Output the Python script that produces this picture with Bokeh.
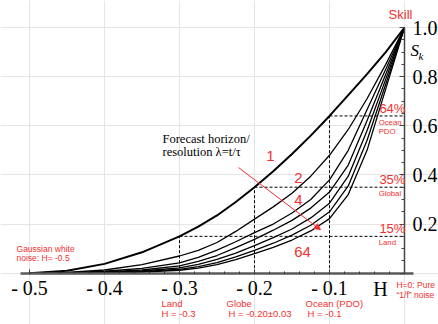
import numpy as np
from bokeh.plotting import figure
from bokeh.models import (Range1d, LinearAxis, SingleIntervalTicker, CustomJSTickFormatter,
                          Label, Arrow, NormalHead)
from bokeh.embed import file_html
from bokeh.resources import INLINE

# ---- data ----
H = [-0.5, -0.45, -0.4, -0.35, -0.3, -0.275, -0.25, -0.225, -0.2, -0.175,
     -0.15, -0.125, -0.1, -0.075, -0.05, -0.025, 0.0]
lambdas = [1, 2, 4, 8, 16, 32, 64]
skill_l1 = [0.0, 0.010, 0.038, 0.085, 0.150, 0.190, 0.235, 0.290, 0.350, 0.415,
            0.485, 0.560, 0.640, 0.725, 0.810, 0.900, 1.0]
skill_l2 = [0.0, 0.003, 0.013, 0.035, 0.070, 0.093, 0.125, 0.170, 0.220, 0.270,
            0.325, 0.395, 0.480, 0.585, 0.710, 0.850, 1.0]
skill_l4 = [0.0, 0.002, 0.008, 0.020, 0.042, 0.064, 0.094, 0.128, 0.165, 0.200,
            0.245, 0.300, 0.380, 0.500, 0.665, 0.830, 1.0]
skill_l8 = [0.0, 0.001, 0.005, 0.013, 0.030, 0.048, 0.072, 0.104, 0.138, 0.175,
            0.215, 0.265, 0.330, 0.440, 0.620, 0.810, 1.0]
skill_l16 = [0.0, 0.001, 0.003, 0.009, 0.022, 0.036, 0.056, 0.082, 0.112, 0.145,
             0.180, 0.225, 0.285, 0.395, 0.580, 0.790, 1.0]
skill_l32 = [0.0, 0.0005, 0.002, 0.006, 0.016, 0.027, 0.043, 0.066, 0.093, 0.122,
             0.155, 0.195, 0.250, 0.355, 0.540, 0.770, 1.0]
skill_l64 = [0.0, 0.0003, 0.0015, 0.004, 0.012, 0.021, 0.035, 0.055, 0.080, 0.105,
             0.135, 0.172, 0.222, 0.320, 0.500, 0.750, 1.0]
curves = [skill_l1, skill_l2, skill_l4, skill_l8, skill_l16, skill_l32, skill_l64]

ref_H = [-0.3, -0.2, -0.1]
ref_skill = [0.15, 0.35, 0.64]
ref_pct = ["15%", "35%", "64%"]
ref_region = [["Land"], ["Global"], ["Ocean", "PDO"]]

RED = "#f2302e"
SERIF = "Liberation Serif"
SANS = "Liberation Sans"

# frame covers the whole canvas; axes are pinned at H=0 / Sk=0
p = figure(width=438, height=324,
           x_range=Range1d(-0.53867, 0.04533), y_range=Range1d(-0.20879, 1.10989),
           output_backend="svg", toolbar_location=None,
           x_axis_location=None, y_axis_location=None,
           min_border_left=0, min_border_right=0, min_border_top=0, min_border_bottom=0)
p.outline_line_color = None
p.background_fill_color = "white"
p.border_fill_color = "white"

# axes
xaxis = LinearAxis(ticker=SingleIntervalTicker(interval=0.1, num_minor_ticks=5),
                   formatter=CustomJSTickFormatter(code="""
                       if (Math.abs(tick) < 1e-9) { return ""; }
                       return "- " + Math.abs(tick).toFixed(1);"""),
                   fixed_location=0.0, bounds=(-0.512, 0.012))
xaxis.axis_line_color = "#5a5a5a"
xaxis.axis_line_width = 2.5
xaxis.major_tick_in = 4
xaxis.major_tick_out = 0
xaxis.minor_tick_in = 2
xaxis.minor_tick_out = 0
xaxis.major_tick_line_color = "#333333"
xaxis.minor_tick_line_color = "#333333"
xaxis.major_label_text_font = SERIF
xaxis.major_label_text_font_size = "20px"
xaxis.major_label_text_color = "black"
xaxis.major_label_standoff = 4
p.add_layout(xaxis, "below")

yaxis = LinearAxis(ticker=SingleIntervalTicker(interval=0.2, num_minor_ticks=4),
                   formatter=CustomJSTickFormatter(code="""
                       if (Math.abs(tick) < 1e-9) { return ""; }
                       return tick.toFixed(1);"""),
                   fixed_location=0.0, bounds=(0.0, 1.0))
yaxis.axis_line_color = "#444444"
yaxis.axis_line_width = 1.5
yaxis.major_tick_in = 5
yaxis.major_tick_out = 0
yaxis.minor_tick_in = 3
yaxis.minor_tick_out = 0
yaxis.major_tick_line_color = "#444444"
yaxis.minor_tick_line_color = "#444444"
yaxis.major_label_text_font = SERIF
yaxis.major_label_text_font_size = "20px"
yaxis.major_label_text_color = "black"
yaxis.major_label_standoff = 8
p.add_layout(yaxis, "right")

# dashed reference lines
zeros = [0.0] * len(ref_H)
p.segment(x0=ref_H, y0=ref_skill, x1=zeros, y1=ref_skill, line_color="black",
          line_width=1, line_dash="3 2")
p.segment(x0=ref_H, y0=zeros, x1=ref_H, y1=ref_skill, line_color="black",
          line_width=1, line_dash="3 2")

# curves
for lam, s in zip(lambdas, curves):
    p.line(H, s, line_color="black", line_width=2.0 if lam == 1 else 1.3,
           line_join="round")

def lab(x, y, text, size, color=RED, font=SANS, align="left", baseline="middle", style="normal"):
    p.add_layout(Label(x=x, y=y, text=text, text_font=font, text_font_size=size,
                       text_color=color, text_align=align, text_baseline=baseline,
                       text_font_style=style))

# percentages and regions at right
for hv, sv, pct, reg in zip(ref_H, ref_skill, ref_pct, ref_region):
    lab(0.0012, sv + 0.03, pct, "13px", align="right")
    for i, r in enumerate(reg):
        lab(-0.0345, sv - 0.027 - 0.038 * i, r, "7.8px")

# curve labels
lab(-0.1787, 0.479, "1", "15px", align="center")
lab(-0.1413, 0.3895, "2", "15px", align="center")
lab(-0.1413, 0.2995, "4", "15px", align="center")
lab(-0.136, 0.088, "64", "15px", align="center")

# forecast horizon text
lab(-0.3227, 0.546, "Forecast horizon/", "12.5px", color="black", font=SERIF)
lab(-0.3227, 0.495, "resolution  \u03bb=t/\u03c4", "12.5px", color="black", font=SERIF)

p.add_layout(Arrow(end=NormalHead(size=6, fill_color=RED, line_color=RED, line_width=1),
                   x_start=-0.2213, y_start=0.430, x_end=-0.112, y_end=0.177,
                   line_color=RED, line_width=1))

# left annotation
lab(-0.5173, 0.0985, "Gaussian white", "8.5px")
lab(-0.5173, 0.062, "noise: H= -0.5", "8.5px")

# bottom annotations
lab(-0.324, -0.1233, "Land", "9.5px")
lab(-0.324, -0.162, "H = -0.3", "9.5px")
lab(-0.2373, -0.1233, "Globe", "9.5px")
lab(-0.2347, -0.162, "H = -0.20\u00b10.03", "9.5px")
lab(-0.132, -0.1233, "Ocean (PDO)", "9.5px")
lab(-0.1293, -0.162, "H = -0.1", "9.5px")
lab(-0.0107, -0.050, "H=0: Pure", "8.5px")
lab(-0.0107, -0.0867, "\u201c1/f\u201d noise", "8.5px")

# axis names
lab(-0.032, -0.066, "H", "20px", color="black", font=SERIF, align="center")
lab(-0.0053, 1.053, "Skill", "13px", align="center")
lab(0.008, 0.906, "S", "17px", color="black", font=SERIF, style="italic")
lab(0.0185, 0.886, "k", "11px", color="black", font=SERIF, style="italic")

open("out.html", "w").write(file_html(p, INLINE))
